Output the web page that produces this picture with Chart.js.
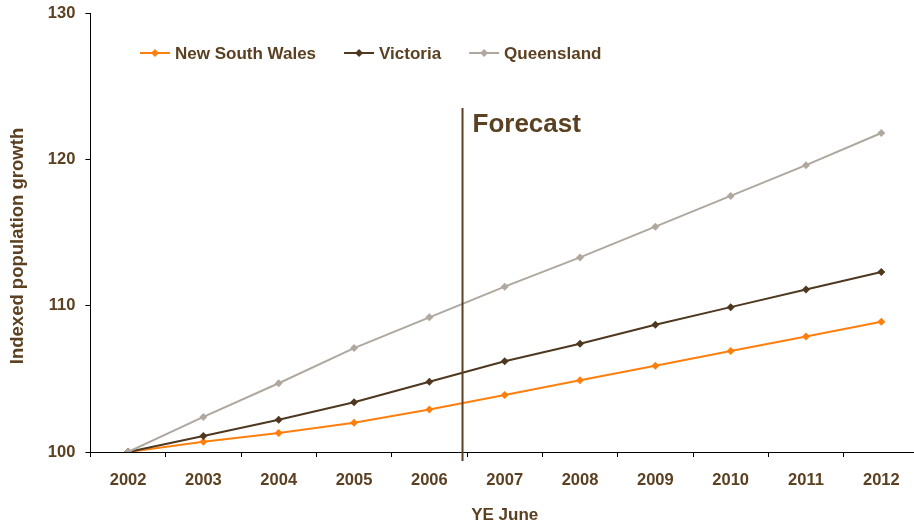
<!DOCTYPE html>
<html><head><meta charset="utf-8">
<script src="https://cdn.jsdelivr.net/npm/chart.js@4"></script>
<style>
html,body{margin:0;padding:0;background:#fff;overflow:hidden;width:914px;height:526px}
#wrap{width:923px;height:526px;position:relative}
</style>
</head><body><div id="wrap"><canvas id="c" width="923" height="526" style="width:923px;height:526px"></canvas></div>
<script>
const years = ['2002','2003','2004','2005','2006','2007','2008','2009','2010','2011','2012'];
const nsw = [100,100.7,101.3,102.0,102.9,103.9,104.9,105.9,106.9,107.9,108.9];
const vic = [100,101.1,102.2,103.4,104.8,106.2,107.4,108.7,109.9,111.1,112.3];
const qld = [100,102.4,104.7,107.1,109.2,111.3,113.3,115.4,117.5,119.6,121.8];
const seriesNames = ['New South Wales','Victoria','Queensland'];
const yTitle = 'Indexed population growth';
const xTitle = 'YE June';
const forecastLabel = 'Forecast';
const forecastAt = 4.44;   // position between 2006 and 2007 (category index)
const forecastTop = 123.5; // top of the forecast divider in y units

const colors = ['#FF7F0E','#4E3820','#B0A89F'];
const textColor = '#5B4021';
const FONT = "'Liberation Sans', Arial, sans-serif";

const seriesData = [nsw, vic, qld];
const datasets = seriesNames.map((n,i)=>({
  label:n, data:seriesData[i], borderColor:colors[i], backgroundColor:colors[i],
  borderWidth:2, pointStyle:'rectRot', pointRadius:4, pointBorderWidth:0,
  pointBackgroundColor:colors[i], tension:0
}));
datasets.reverse();

const overlay = {
  id:'overlay',
  afterDatasetsDraw(chart){
    const ctx = chart.ctx, xs = chart.scales.x, ys = chart.scales.y;
    ctx.save();
    const fx = xs.getPixelForValue(forecastAt);
    ctx.strokeStyle = textColor; ctx.lineWidth = 2;
    ctx.beginPath(); ctx.moveTo(fx, ys.getPixelForValue(forecastTop));
    ctx.lineTo(fx, chart.chartArea.bottom + 9); ctx.stroke();
    ctx.fillStyle = textColor; ctx.font = 'bold 26px ' + FONT;
    ctx.textBaseline = 'alphabetic'; ctx.textAlign = 'left';
    ctx.fillText(forecastLabel, fx + 10, 132);
    let x = 140; const y = 53;
    ctx.font = 'bold 17px ' + FONT; ctx.textBaseline = 'middle';
    seriesNames.forEach((n,i)=>{
      ctx.strokeStyle = colors[i]; ctx.lineWidth = 2;
      ctx.beginPath(); ctx.moveTo(x, y); ctx.lineTo(x+30, y); ctx.stroke();
      ctx.fillStyle = colors[i];
      ctx.beginPath(); ctx.moveTo(x+15, y-4); ctx.lineTo(x+19, y); ctx.lineTo(x+15, y+4); ctx.lineTo(x+11, y); ctx.closePath(); ctx.fill();
      ctx.fillStyle = textColor;
      ctx.fillText(n, x+35, y+1);
      x += 35 + ctx.measureText(n).width + 28;
    });
    ctx.translate(18, 246); ctx.rotate(-Math.PI/2);
    ctx.textAlign = 'center'; ctx.textBaseline = 'middle';
    ctx.font = 'bold 18.5px ' + FONT;
    ctx.fillText(yTitle, 0, 0);
    ctx.restore();
  }
};

new Chart(document.getElementById('c'), {
  type:'line',
  data:{labels:years, datasets},
  options:{
    responsive:false, animation:false,
    layout:{padding:{top:13,left:0,right:0,bottom:0}},
    plugins:{legend:{display:false}, tooltip:{enabled:false}},
    scales:{
      x:{
        type:'category', offset:true,
        grid:{offset:true, drawOnChartArea:false, drawTicks:true, tickLength:5, color:'#000', lineWidth:1},
        border:{display:true, color:'#000', width:1},
        ticks:{color:textColor, font:{family:FONT, size:16.5, weight:'bold'}, padding:14, maxRotation:0},
        title:{display:true, text:xTitle, color:textColor, font:{family:FONT, size:17, weight:'bold'}, padding:{top:0,bottom:0}},
        afterFit(s){ s.height = 74; s.paddingLeft = 0; s.paddingRight = 0; }
      },
      y:{
        min:100, max:130,
        grid:{drawOnChartArea:false, drawTicks:true, tickLength:5, color:'#000', lineWidth:1},
        border:{display:true, color:'#000', width:1},
        ticks:{stepSize:10, color:textColor, font:{family:FONT, size:16.5, weight:'bold'}, padding:10},
        afterFit(s){ s.width = 90.4; s.paddingTop = 0; s.paddingBottom = 0; }
      }
    }
  },
  plugins:[overlay]
});
</script>
</body></html>
